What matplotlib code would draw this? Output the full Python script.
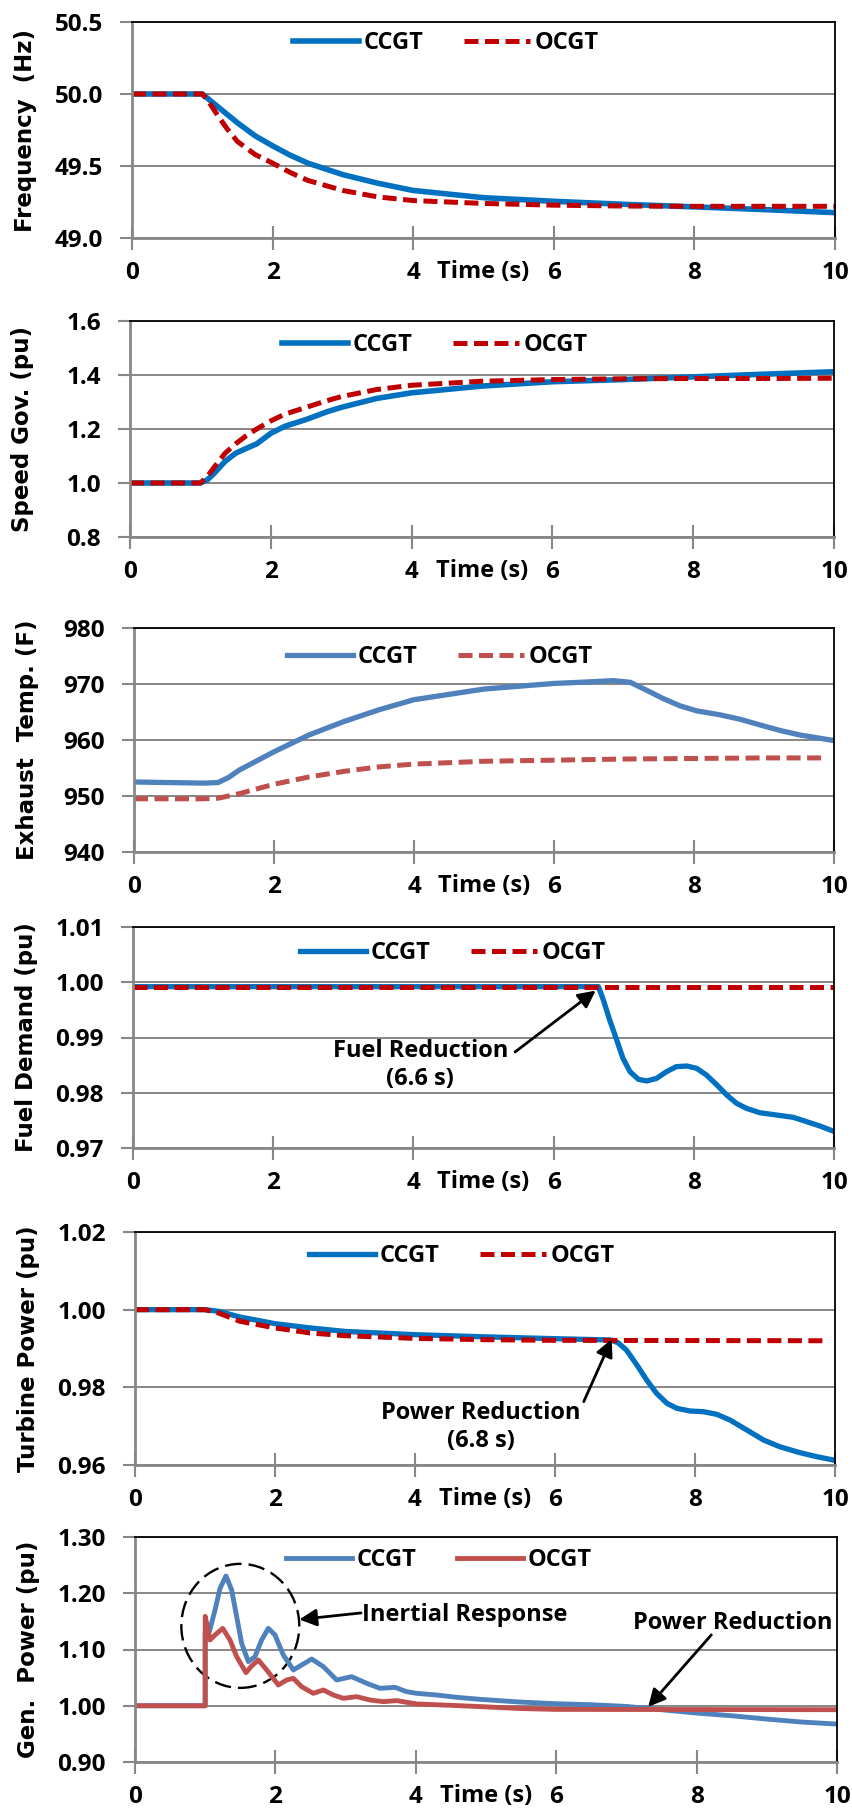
import matplotlib
matplotlib.use('Agg')
import matplotlib.pyplot as plt
from matplotlib.patches import Ellipse

# ---- data: time (s) and responses for the two plants ----
t_freq = [0, 1.0, 1.1, 1.2, 1.35, 1.5, 1.75, 2.0, 2.25, 2.5, 3.0, 3.5, 4.0, 5.0, 6.0, 7.0, 8.0,
          9.0, 10.0]
ccgt_freq = [50.0, 50.0, 49.96, 49.92, 49.86, 49.80, 49.71, 49.64, 49.575, 49.52, 49.44, 49.38,
             49.33, 49.28, 49.255, 49.234, 49.216, 49.197, 49.176]
ocgt_freq = [50.0, 50.0, 49.94, 49.865, 49.76, 49.67, 49.58, 49.52, 49.455, 49.40, 49.33, 49.285,
             49.26, 49.24, 49.228, 49.222, 49.22, 49.22, 49.22]

t_gov = [0, 1.0, 1.1, 1.2, 1.35, 1.5, 1.65, 1.8, 2.0, 2.2, 2.5, 2.8, 3.0, 3.5, 4.0, 5.0, 6.0, 7.0,
         8.0, 9.0, 10.0]
ccgt_gov = [1.0, 1.0, 1.012, 1.037, 1.08, 1.11, 1.128, 1.145, 1.184, 1.21, 1.235, 1.264, 1.28,
            1.313, 1.334, 1.359, 1.375, 1.383, 1.393, 1.403, 1.412]
ocgt_gov = [1.0, 1.0, 1.025, 1.06, 1.11, 1.145, 1.175, 1.20, 1.23, 1.255, 1.28, 1.305, 1.32, 1.346,
            1.362, 1.377, 1.383, 1.386, 1.387, 1.387, 1.388]

t_exh_c = [0, 1.0, 1.2, 1.35, 1.5, 2.0, 2.5, 3.0, 3.5, 4.0, 5.0, 6.0, 6.37, 6.85, 7.09, 7.32, 7.56,
           7.8, 8.04, 8.37, 8.66, 8.94, 9.23, 9.51, 10.0]
ccgt_exh = [952.5, 952.3, 952.4, 953.3, 954.6, 957.9, 960.9, 963.3, 965.4, 967.2, 969.1, 970.1,
            970.3, 970.6, 970.3, 968.9, 967.4, 966.1, 965.2, 964.5, 963.7, 962.7, 961.7, 960.9,
            959.9]
t_exh_o = [0, 1.0, 1.2, 1.5, 2.0, 2.5, 3.0, 3.5, 4.0, 5.0, 6.0, 7.0, 8.0, 9.0, 9.9]
ocgt_exh = [949.5, 949.5, 949.6, 950.4, 952.1, 953.4, 954.4, 955.2, 955.7, 956.2, 956.4, 956.6,
            956.7, 956.8, 956.8]

t_fuel_c = [0, 6.64, 6.71, 6.80, 6.90, 6.99, 7.09, 7.21, 7.33, 7.47, 7.61, 7.75, 7.90, 8.04, 8.18,
            8.33, 8.47, 8.61, 8.75, 8.94, 9.18, 9.42, 9.61, 9.80, 10.0]
ccgt_fuel = [0.99920, 0.99920, 0.99679, 0.99317, 0.98955, 0.98623, 0.98381, 0.98243, 0.98213,
             0.98261, 0.98381, 0.98472, 0.98484, 0.98442, 0.98321, 0.98140, 0.97959, 0.97809,
             0.97718, 0.97639, 0.97597, 0.97555, 0.97476, 0.97398, 0.97300]
t_fuel_o = [0, 10.0]
ocgt_fuel = [0.99920, 0.99920]

t_turb_c = [0, 1.0, 1.2, 1.5, 2.0, 2.5, 3.0, 4.0, 5.0, 6.0, 6.79, 6.9, 7.02, 7.17, 7.31, 7.45,
            7.60, 7.74, 7.93, 8.12, 8.31, 8.50, 8.74, 8.98, 9.21, 9.50, 9.74, 10.0]
ccgt_turb = [1.0, 1.0, 0.99957, 0.9981, 0.9964, 0.9953, 0.9944, 0.99356, 0.9930, 0.99253, 0.9922,
             0.9915, 0.98961, 0.98575, 0.98188, 0.97846, 0.97588, 0.9746, 0.9739, 0.97373,
             0.97305, 0.97158, 0.96901, 0.96643, 0.96471, 0.96317, 0.96214, 0.9612]
t_turb_o = [0, 1.0, 1.2, 1.5, 2.0, 2.5, 3.0, 4.0, 5.0, 6.0, 9.86]
ocgt_turb = [1.0, 1.0, 0.9991, 0.997, 0.9953, 0.994, 0.9933, 0.9926, 0.99227, 0.9921, 0.9920]

t_gen_c = [0, 1.0, 1.0, 1.059, 1.14, 1.211, 1.296, 1.377, 1.448, 1.519, 1.614, 1.709, 1.804, 1.899,
           1.994, 2.113, 2.256, 2.374, 2.517, 2.683, 2.873, 3.086, 3.30, 3.49, 3.704, 3.87, 4.012,
           4.297, 4.582, 4.915, 5.5, 6.0, 6.5, 7.0, 7.5, 8.0, 8.5, 9.0, 9.5, 10.0]
ccgt_gen = [1.0, 1.0, 1.13, 1.1317, 1.1702, 1.2087, 1.2307, 1.2058, 1.1584, 1.111, 1.0784, 1.0873,
            1.1169, 1.1376, 1.1258, 1.0902, 1.0636, 1.0724, 1.0831, 1.0695, 1.0458, 1.0517,
            1.0399, 1.031, 1.0327, 1.025, 1.0221, 1.0191, 1.015, 1.0114, 1.0065, 1.0036, 1.0018,
            0.9988, 0.9929, 0.987, 0.9822, 0.9763, 0.971, 0.9674]
t_gen_o = [0, 1.0, 1.0, 1.068, 1.14, 1.249, 1.353, 1.448, 1.581, 1.662, 1.757, 1.876, 2.042, 2.161,
           2.256, 2.374, 2.54, 2.683, 2.826, 2.968, 3.158, 3.348, 3.538, 3.728, 4.012, 4.487,
           4.915, 5.5, 6.0, 10.0]
ocgt_gen = [1.0, 1.0, 1.159, 1.1169, 1.1258, 1.1376, 1.1169, 1.0873, 1.0589, 1.0707, 1.0813,
            1.0636, 1.0369, 1.0458, 1.0487, 1.0338, 1.0221, 1.028, 1.0191, 1.0132, 1.0162, 1.0102,
            1.0073, 1.0091, 1.0032, 1.0008, 0.9985, 0.995, 0.9935, 0.993]

# ---- look ----
W, H = 852, 1816
GRID = '#878787'
BLUE = '#0070C0'
RED = '#C00000'
BLUE2 = '#4F81BD'
RED2 = '#C0504D'

plt.rcParams['font.family'] = ['Open Sans', 'DejaVu Sans']
plt.rcParams['font.weight'] = 'bold'
plt.rcParams['font.size'] = 17

fig = plt.figure(figsize=(W / 100, H / 100), dpi=100)


def px_rect(l, t, r, b):
    return [l / W, 1 - b / H, (r - l) / W, (b - t) / H]


def style(ax, ylim, yticks, fmt, ylabel):
    ax.set_xlim(0, 10)
    ax.set_ylim(*ylim)
    ax.set_xticks(range(0, 11, 2))
    ax.set_yticks(yticks)
    ax.set_yticklabels([fmt.format(v) for v in yticks])
    ax.grid(axis='y', color=GRID, lw=1.4)
    ax.set_axisbelow(True)
    for s in ['top', 'right']:
        ax.spines[s].set_color('black')
        ax.spines[s].set_linewidth(1.3)
    for s in ['left', 'bottom']:
        ax.spines[s].set_color(GRID)
        ax.spines[s].set_linewidth(2)
    ax.tick_params(axis='x', direction='inout', length=17, width=1.5, color=GRID, pad=8,
                   labelsize=17.5)
    ax.tick_params(axis='y', direction='out', length=9, width=1.5, color=GRID, pad=12,
                   labelsize=17.5)
    ax.text(-0.152, 0.5, ylabel, transform=ax.transAxes, rotation=90, ha='center',
            va='center', family='DejaVu Sans', fontsize=16.5, fontweight='bold')
    ax.annotate('Time (s)', xy=(0.5, 0), xycoords='axes fraction', xytext=(0, -16),
                textcoords='offset points', ha='center', va='top', fontsize=17)


def add_legend(ax, cx, cy):
    ax.legend(loc='center', bbox_to_anchor=(cx / W, 1 - cy / H), bbox_transform=fig.transFigure,
              ncol=2, frameon=False, handlelength=2.8, handletextpad=0.2, columnspacing=1.7,
              fontsize=17)


def arrow(ax, head, tail):
    ax.annotate('', xy=head, xytext=tail,
                arrowprops=dict(arrowstyle='-|>', color='black', lw=2, mutation_scale=26,
                                shrinkA=0, shrinkB=0))


dash = (2.8, 1.3)

# Frequency
ax1 = fig.add_axes(px_rect(132, 22, 835, 238))
ax1.plot(t_freq, ccgt_freq, color=BLUE, lw=4, label='CCGT')
ax1.plot(t_freq, ocgt_freq, color=RED, lw=3.6, dashes=dash, label='OCGT')
style(ax1, (49.0, 50.5), [49.0, 49.5, 50.0, 50.5], '{:.1f}', 'Frequency  (Hz)')
add_legend(ax1, 446, 43)

# Speed governor
ax2 = fig.add_axes(px_rect(130, 321, 834, 537))
ax2.plot(t_gov, ccgt_gov, color=BLUE, lw=4, label='CCGT')
ax2.plot(t_gov, ocgt_gov, color=RED, lw=3.6, dashes=dash, label='OCGT')
style(ax2, (0.8, 1.6), [0.8, 1.0, 1.2, 1.4, 1.6], '{:.1f}', 'Speed Gov. (pu)')
add_legend(ax2, 435, 345)

# Exhaust temperature
ax3 = fig.add_axes(px_rect(134, 628, 834, 852))
ax3.plot(t_exh_c, ccgt_exh, color=BLUE2, lw=3.8, label='CCGT')
ax3.plot(t_exh_o, ocgt_exh, color=RED2, lw=3.6, dashes=dash, label='OCGT')
style(ax3, (940, 980), [940, 950, 960, 970, 980], '{:.0f}', 'Exhaust  Temp. (F)')
add_legend(ax3, 440, 657)

# Fuel demand
ax4 = fig.add_axes(px_rect(133, 927, 834, 1148))
ax4.plot(t_fuel_c, ccgt_fuel, color=BLUE, lw=3.8, label='CCGT')
ax4.plot(t_fuel_o, ocgt_fuel, color=RED, lw=3.6, dashes=dash, label='OCGT')
style(ax4, (0.97, 1.01), [0.97, 0.98, 0.99, 1.00, 1.01], '{:.2f}', 'Fuel Demand (pu)')
add_legend(ax4, 453, 953)
ax4.text(4.1, 0.985, 'Fuel Reduction\n(6.6 s)', ha='center', va='center', linespacing=1.2)
arrow(ax4, (6.6, 0.9985), (5.45, 0.98738))

# Turbine power
ax5 = fig.add_axes(px_rect(135, 1232, 835, 1465))
ax5.plot(t_turb_c, ccgt_turb, color=BLUE, lw=3.8, label='CCGT')
ax5.plot(t_turb_o, ocgt_turb, color=RED, lw=3.6, dashes=dash, label='OCGT')
style(ax5, (0.96, 1.02), [0.96, 0.98, 1.00, 1.02], '{:.2f}', 'Turbine Power (pu)')
add_legend(ax5, 462, 1256)
ax5.text(4.94, 0.9698, 'Power Reduction\n(6.8 s)', ha='center', va='center', linespacing=1.2)
arrow(ax5, (6.81, 0.9924), (6.41, 0.9763))

# Generator power
ax6 = fig.add_axes(px_rect(135, 1537, 837, 1762))
ax6.plot(t_gen_c, ccgt_gen, color=BLUE2, lw=3.5, label='CCGT')
ax6.plot(t_gen_o, ocgt_gen, color=RED2, lw=3.5, label='OCGT')
style(ax6, (0.9, 1.3), [0.9, 1.0, 1.1, 1.2, 1.3], '{:.2f}', 'Gen.  Power (pu)')
add_legend(ax6, 439, 1560)
ax6.add_patch(Ellipse((1.5, 1.142), 1.68, 0.2205, fill=False, color='black', lw=1.7,
                      ls=(0, (7, 3))))
ax6.text(3.23, 1.1613, 'Inertial Response', ha='left', va='center')
arrow(ax6, (2.34, 1.1533), (3.22, 1.165))
ax6.text(8.52, 1.147, 'Power Reduction', ha='center', va='center')
arrow(ax6, (7.31, 0.998), (8.21, 1.126))

fig.savefig('out.png', dpi=100)
